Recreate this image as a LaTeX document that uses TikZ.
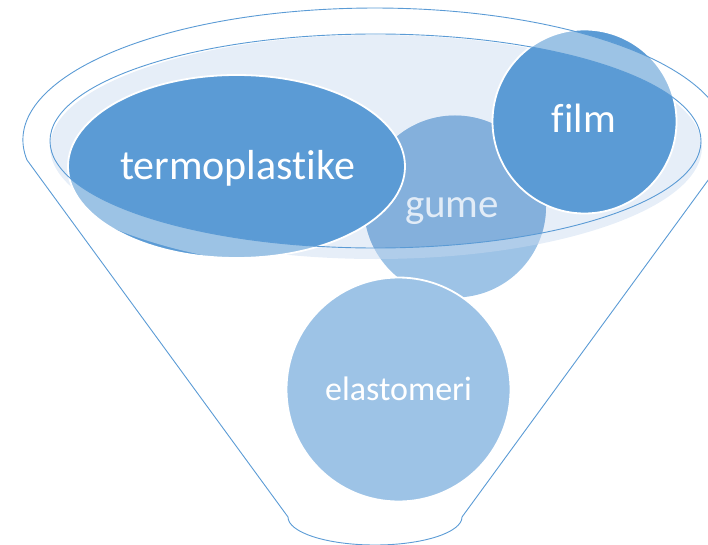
\documentclass[tikz,border=0pt]{standalone}
\usepackage{fontspec}
\setmainfont[Ligatures={NoCommon}]{Carlito}
\usetikzlibrary{shapes.geometric}
\definecolor{dark}{HTML}{5B9BD5}
\definecolor{lite}{HTML}{9DC3E6}
\definecolor{gumein}{HTML}{84B0DC}
\definecolor{mouth}{RGB}{200,218,240}
\definecolor{gumetxt}{HTML}{E2ECF7}
\begin{document}
\begin{tikzpicture}[x=1pt,y=-1pt,
  blob/.style={fill=dark, draw=white, line width=1.8pt, inner sep=0pt},
  lbl/.style={anchor=base, text=white, inner sep=0pt, font=\fontsize{41}{41}\selectfont},
  rim/.style={draw=dark, line width=0.9pt}]
\useasboundingbox (0,0) rectangle (708,545);
\clip (0,0) rectangle (708,545);
% gume base
\node[circle, fill=lite, minimum size=182pt, inner sep=0pt] (gume) at (455,206.5) {};
% mouth overlay
\fill[mouth, opacity=.45] (376,147) ellipse[x radius=326, y radius=112];
\begin{scope}
  \clip (375.5,141) ellipse[x radius=325.5, y radius=107];
  \fill[gumein] (gume.center) circle[radius=91];
\end{scope}
\node[lbl, text=gumetxt] (gumetext) at (452,218) {gume};
\node[blob, ellipse, minimum width=337pt, minimum height=183pt] (termo) at (236.5,166.5) {};
\node[blob, circle, minimum size=184pt] (film) at (584.5,121.5) {};
\begin{scope}
  \clip (termo.center) ellipse[x radius=168.5, y radius=91.5];
  \fill[white, opacity=.4, even odd rule] (375,140) ellipse[x radius=352, y radius=132] (375.5,141) ellipse[x radius=325.5, y radius=107];
\end{scope}
\begin{scope}
  \clip (film.center) circle[radius=92];
  \fill[white, opacity=.4, even odd rule] (375,140) ellipse[x radius=352, y radius=132] (375.5,141) ellipse[x radius=325.5, y radius=107];
\end{scope}
\node[blob, fill=lite, circle, minimum size=224pt] (elast) at (398.5,389.5) {};
\node[lbl, font=\fontsize{42}{42}\selectfont] (termotext) at (237.5,180) {termoplastike};
\node[lbl] (filmtext) at (584,133) {film};
\node[lbl, font=\fontsize{34}{34}\selectfont] (elasttext) at (398.5,400) {elastomeri};
% funnel outline
\draw[rim] (27,160) arc[start angle=171.29, end angle=368.71, x radius=352, y radius=132]
  -- (462,517) arc[start angle=0, end angle=180, x radius=87, y radius=28] -- cycle;
\draw[rim] (375.5,141) ellipse[x radius=325.5, y radius=107];
\end{tikzpicture}
\end{document}
